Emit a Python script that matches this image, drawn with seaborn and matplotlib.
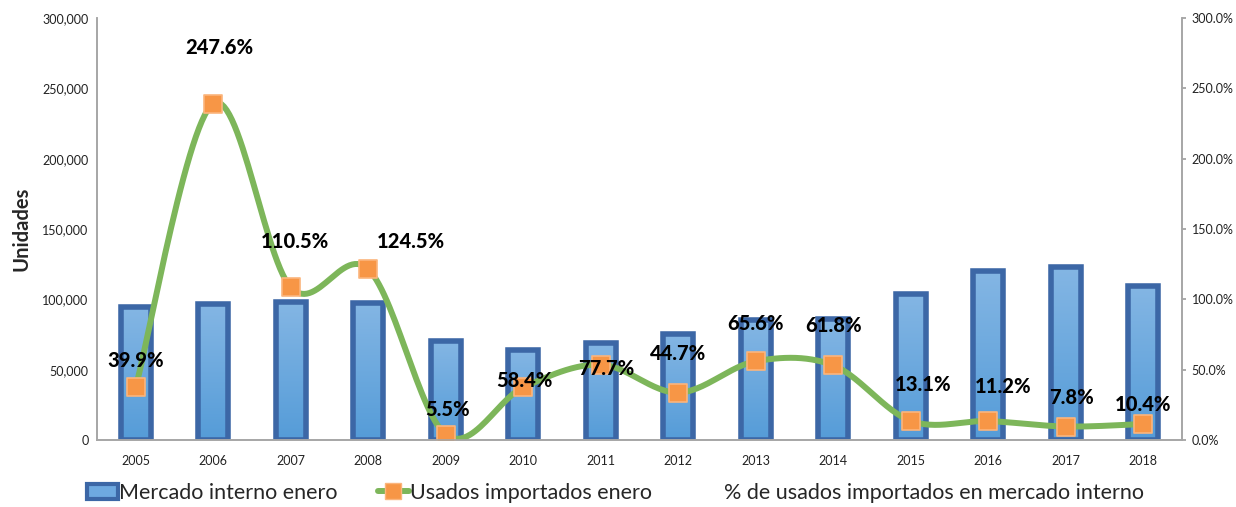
import numpy as np
import pandas as pd
import matplotlib
matplotlib.use("Agg")
import matplotlib.pyplot as plt
from matplotlib.lines import Line2D
from matplotlib.patches import Patch
from matplotlib.ticker import FuncFormatter
import seaborn as sns

# ---- data ----
years = ["2005", "2006", "2007", "2008", "2009", "2010", "2011", "2012",
         "2013", "2014", "2015", "2016", "2017", "2018"]
mercado_interno = [94500, 96600, 98200, 97500, 70400, 64000, 69000, 75400,
                   85300, 86000, 103800, 120100, 123000, 109500]
usados_importados = [37700, 239200, 108500, 121400, 3870, 37400, 53600, 33700,
                     56000, 53100, 13600, 13450, 9600, 11400]
pct_usados = [39.9, 247.6, 110.5, 124.5, 5.5, 58.4, 77.7, 44.7,
              65.6, 61.8, 13.1, 11.2, 7.8, 10.4]
left_ticks = [0, 50000, 100000, 150000, 200000, 250000, 300000]
right_ticks = [0, 50, 100, 150, 200, 250, 300]
legend_labels = ["Mercado interno enero", "Usados importados enero",
                 "% de usados importados en mercado interno"]
ylabel = "Unidades"

# label offsets (points) relative to each marker
label_offsets = [(0, 19), (4, 40), (3, 33), (31, 20), (1, 18), (1, 5), (4, -3),
                 (0, 28), (0, 27), (0, 29), (9, 26), (11, 25), (4, 21), (0, 14)]

df = pd.DataFrame({"year": years, "mercado": mercado_interno,
                   "usados": usados_importados, "pct": pct_usados})
df["pos"] = np.arange(len(years))

sns.set_theme(style="white")
plt.rcParams["font.family"] = ["Lato", "DejaVu Sans"]

fig = plt.figure(figsize=(12.36, 5.07), dpi=100)
ax = fig.add_axes([0.0785, 0.1321, 0.9563 - 0.0785, 0.9645 - 0.1321])

bar_edge = "#3c67a6"
sns.barplot(data=df, x="year", y="mercado", ax=ax, color="#66a6dd",
            width=0.39, edgecolor=bar_edge, linewidth=4.0, saturation=1,
            zorder=2)

# gradient fill inside bars
grad = np.linspace(0, 1, 256).reshape(-1, 1)
cmap = matplotlib.colors.LinearSegmentedColormap.from_list(
    "g", ["#84b6e4", "#559cd8"])
for p in ax.patches:
    x0, y0 = p.get_x(), p.get_y()
    w, h = p.get_width(), p.get_height()
    im = ax.imshow(grad, cmap=cmap, aspect="auto",
                   extent=(x0, x0 + w, y0, y0 + h), origin="upper", zorder=2.1)
    im.set_clip_path(p)
    p.set_facecolor("none")
    p.set_zorder(2.2)

# smoothed line (Catmull-Rom, like Excel's smoothed line)
xs = df["pos"].to_numpy(float)
ys = df["usados"].to_numpy(float)
P = np.vstack([xs, ys]).T
Pext = np.vstack([P[0], P, P[-1]])
curve = []
t = np.linspace(0, 1, 30)
for i in range(1, len(Pext) - 2):
    p0, p1, p2, p3 = Pext[i - 1], Pext[i], Pext[i + 1], Pext[i + 2]
    seg = 0.5 * ((2 * p1)[None, :] + (-p0 + p2)[None, :] * t[:, None]
                 + (2 * p0 - 5 * p1 + 4 * p2 - p3)[None, :] * t[:, None] ** 2
                 + (-p0 + 3 * p1 - 3 * p2 + p3)[None, :] * t[:, None] ** 3)
    curve.append(seg)
curve = np.vstack(curve)
ax.plot(curve[:, 0], curve[:, 1], color="#7db65a", lw=4.3, zorder=3,
        solid_capstyle="round")

sns.scatterplot(x=xs, y=ys, ax=ax, marker="s", s=150, color="#f79646",
                edgecolor="#fbb57d", linewidth=1.2, zorder=4)

for xi, yi, pv, off in zip(xs, ys, pct_usados, label_offsets):
    ax.annotate(f"{pv:.1f}%", (xi, yi), xytext=off, textcoords="offset points",
                ha="center", va="center", fontsize=14.5, fontweight="black",
                color="black", zorder=5)

ax.set_xlim(-0.5, len(years) - 0.5)
ax.set_ylim(0, 300000)
ax.set_yticks(left_ticks)
ax.yaxis.set_major_formatter(FuncFormatter(lambda v, _: f"{int(v):,}"))
ax.set_xlabel("")
ax.set_ylabel(ylabel, fontsize=14.5, fontweight="bold", labelpad=8)
ax.tick_params(axis="y", labelsize=9, length=0, colors="#222222", pad=6)
ax.tick_params(axis="x", labelsize=9, length=0, colors="#222222", pad=11)

ax2 = ax.twinx()
ax2.plot(xs, pct_usados, linestyle="none")
ax2.set_ylim(0, 300)
ax2.set_yticks(right_ticks)
ax2.yaxis.set_major_formatter(FuncFormatter(lambda v, _: f"{v:.1f}%"))
ax2.tick_params(axis="y", labelsize=9, length=3, colors="#222222", pad=4)
ax2.tick_params(axis="y", color="#a0a0a0")
ax2.grid(False)

for a in (ax, ax2):
    for side in ("top",):
        a.spines[side].set_visible(False)
    for side in ("left", "bottom", "right"):
        a.spines[side].set_color("#a6a6a6")
        a.spines[side].set_linewidth(1.2)

handles = [Patch(facecolor="#6ea9e0", edgecolor=bar_edge, linewidth=3),
           Line2D([0], [0], color="#7db65a", lw=4.3, marker="s",
                  markersize=11, markerfacecolor="#f79646",
                  markeredgecolor="#fbb57d"),
           Line2D([0], [0], linestyle="none")]
fig.legend(handles, legend_labels, loc="lower center", ncol=3,
           bbox_to_anchor=(0.498, -0.03), frameon=False, fontsize=15.5,
           handlelength=1.45, handletextpad=0.05, columnspacing=1.85)

fig.savefig("out.png", dpi=100)
